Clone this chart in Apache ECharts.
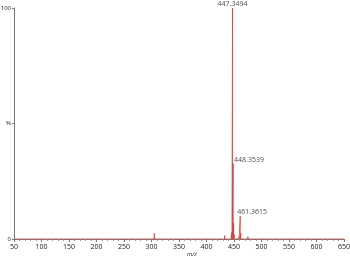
<!DOCTYPE html>
<html><head><meta charset="utf-8">
<script src="https://cdn.jsdelivr.net/npm/echarts@6/dist/echarts.min.js"></script>
<style>html,body{margin:0;padding:0;background:#fff}#c{width:350px;height:259px}</style>
</head><body><div id="c"></div>
<script>
// Peak positions (m/z) and relative intensities (%)
const peakMz =        [120, 210, 305, 352, 433, 445.3, 446.3, 447.3494, 448.3539, 449.35, 450.4, 459.3, 461.3615, 462.36, 463.4, 475.3, 490.2];
const peakIntensity = [0.4, 0.4, 2.5, 0.5, 1.5, 2.0,   3.0,   100,      32.5,     7.0,    2.0,   1.0,   10.0,     2.5,    0.8,   1.0,   0.5];
const labeledMz = [447.3494, 448.3539, 461.3615];
const peakLabels = ['447.3494', '448.3539', '461.3615'];
const xTicks = [50,100,150,200,250,300,350,400,450,500,550,600,650];
const yTickLabels = {0:'0', 50:'%', 100:'100'};

const data = [[50,0]];
peakMz.forEach((mz,i)=>{
  data.push([mz,0]);
  data.push([mz,peakIntensity[i]]);
  data.push([mz,0]);
});
data.push([650,0]);

const labelPos = [[0,-4,'center'],[1,-4,'left'],[-3,-4,'left']];
const labelData = labeledMz.map((mz,li)=>{
  const h = peakIntensity[peakMz.indexOf(mz)];
  const p = labelPos[li];
  return {value:[mz,h], label:{show:true, formatter:peakLabels[li],
    position:[p[0],p[1]], align:p[2], verticalAlign:'middle'}};
});

const chart = echarts.init(document.getElementById('c'));
chart.setOption({
  animation:false,
  grid:{left:14,right:6,top:8,bottom:20,outerBoundsMode:'none',containLabel:false},
  xAxis:{type:'value',min:50,max:650,interval:50,
    name:'m/z',nameLocation:'middle',nameGap:12,nameMoveOverlap:false,
    nameTextStyle:{fontSize:6,fontStyle:'italic',color:'#222',fontFamily:'Open Sans',padding:[0,0,0,26]},
    axisLine:{lineStyle:{color:'#777',width:1}},
    axisTick:{length:3,lineStyle:{color:'#777'}},
    minorTick:{show:true,splitNumber:5,length:2,lineStyle:{color:'#999'}},
    splitLine:{show:false},
    axisLabel:{fontSize:7,color:'#222',margin:4,fontFamily:'Open Sans',
      formatter:v=>xTicks.includes(v)?String(v):''}},
  yAxis:{type:'value',min:0,max:100,interval:50,
    axisLine:{show:true,lineStyle:{color:'#777',width:1}},
    axisTick:{show:true,length:2,lineStyle:{color:'#777'}},
    splitLine:{show:false},
    axisLabel:{fontSize:6,color:'#222',margin:3,fontFamily:'Open Sans',
      formatter:v=>yTickLabels[v]!==undefined?yTickLabels[v]:''}},
  series:[
    {type:'line',data:data,symbol:'none',lineStyle:{color:'#d9403a',width:0.8}},
    {type:'scatter',data:labelData,symbolSize:0,silent:true,z:5,clip:false,
      label:{color:'#222',fontSize:7,fontFamily:'Open Sans'},
      labelLayout:{hideOverlap:false}}
  ]
});
</script></body></html>
